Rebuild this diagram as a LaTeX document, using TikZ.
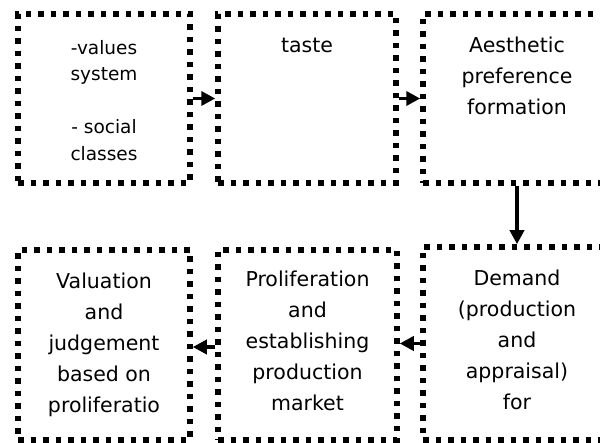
\documentclass[tikz,border=0pt]{standalone}
\usepackage{fontspec}
\setmainfont{DejaVu Sans}
\usetikzlibrary{arrows.meta}
\begin{document}
\begin{tikzpicture}[x=1pt,y=-1pt,
  box/.style={draw, line width=5.5pt, dash pattern=on 5.5pt off 7pt, rectangle, inner sep=0pt, line cap=butt},
  txt/.style={anchor=north, align=center, inner sep=0pt, font=\fontsize{20.5}{31}\selectfont},
  smalltxt/.style={anchor=north, align=center, inner sep=0pt, font=\fontsize{18.5}{26.5}\selectfont},
  arr/.style={line width=3.5pt, -{Triangle[length=14pt,width=14pt]}}]
\useasboundingbox (0,0) rectangle (600,443);
\clip (0,0) rectangle (600,443);
% top row
\node[box, minimum width=172pt, minimum height=169pt] (b1) at (104,98.5) {};
\node[box, minimum width=178pt, minimum height=169pt] (b2) at (307,98.5) {};
\node[box, minimum width=188pt, minimum height=169pt] (b3) at (517,98.5) {};
% bottom row
\node[box, minimum width=172pt, minimum height=190pt] (b4) at (104,345) {};
\node[box, minimum width=179pt, minimum height=190pt] (b5) at (307.5,345) {};
\node[box, minimum width=188pt, minimum height=193pt] (b6) at (517,343.5) {};
% texts
\node[smalltxt] (t1) at (104,39) {\rule{0pt}{15pt}-values\\system\\[26.5pt]- social\\classes};
\node[txt] (t2) at (307,35) {\rule{0pt}{17pt}taste};
\node[txt] (t3) at (517,35) {\rule{0pt}{17pt}Aesthetic\\preference\\formation};
\node[txt] (t4) at (104,271) {\rule{0pt}{17pt}Valuation\\and\\judgement\\based on\\proliferatio};
\node[txt] (t5) at (307.5,269) {\rule{0pt}{17pt}Proliferation\\and\\establishing\\production\\market};
\node[txt] (t6) at (517,268) {\rule{0pt}{17pt}Demand\\(production\\and\\appraisal)\\for};
% arrows
\draw[arr] (b1.east) -- (b2.west);
\draw[arr] (b2.east) -- (b3.west);
\draw[arr] (b3.south) -- (b6.north);
\draw[arr] (b6.west) -- (b6.west -| b5.east);
\draw[arr] ([yshift=-2pt]b5.west) -- ([yshift=-2pt]b5.west -| b4.east);
\end{tikzpicture}
\end{document}
